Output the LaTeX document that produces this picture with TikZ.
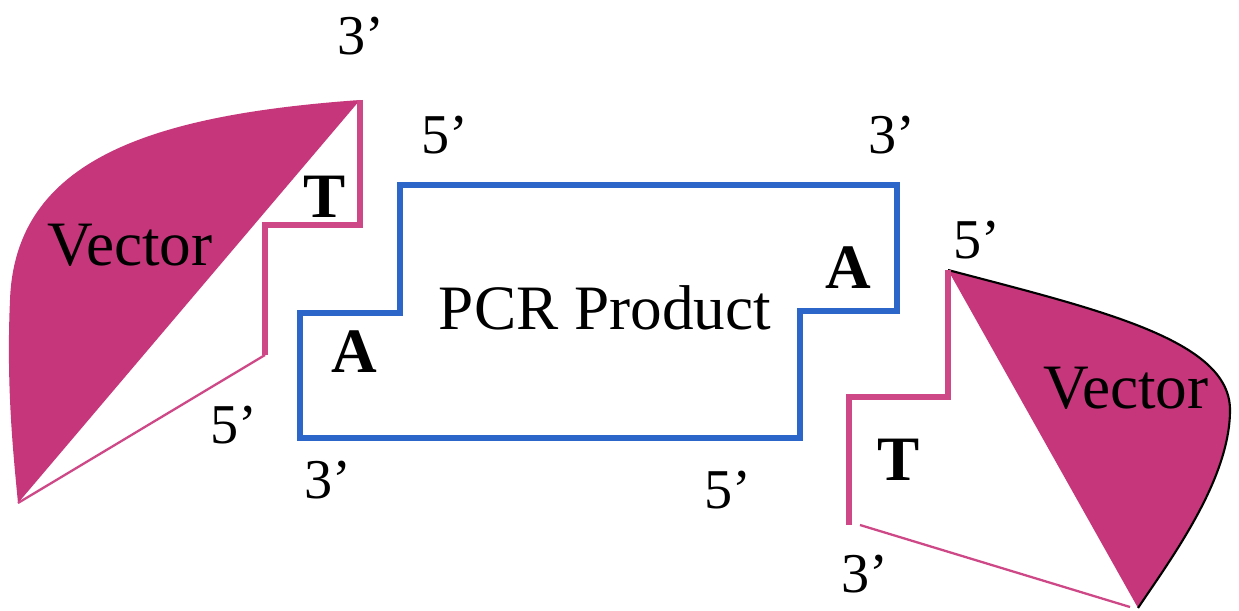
\documentclass[tikz,border=0pt]{standalone}
\usepackage{fontspec}
\setmainfont{Liberation Serif}
\definecolor{vecpink}{RGB}{198,54,122}
\definecolor{strandpink}{RGB}{206,72,136}
\definecolor{pcrblue}{RGB}{44,102,200}

\begin{document}
\begin{tikzpicture}
[x=0.02cm, y=-0.02cm,
vectorfill/.style={fill=vecpink},
strand/.style={draw=strandpink, line width=3.3pt, line join=miter},
thinstrand/.style={draw=strandpink, line width=1.3pt},
product/.style={draw=pcrblue, line width=3.5pt, line join=miter},
primetext/.style={font=\fontsize{32}{36}\selectfont, inner sep=0pt},
wordtext/.style={font=\fontsize{36}{40}\selectfont, inner sep=0pt},
basetext/.style={font=\bfseries\fontsize{36}{40}\selectfont, inner sep=0pt},
]
\useasboundingbox (0,0) rectangle (1239,611);

% left vector
\coordinate (vLtop) at (360,100);
\coordinate (vLbot) at (18,503);
\fill[vectorfill] (vLtop) .. controls (150,115) and (15,160) .. (10,300)
  .. controls (6,390) and (14,460) .. (vLbot) -- cycle;
\draw[strand] (vLtop) |- (265,225) -- (265,355);
\draw[thinstrand] (265,355) -- (vLbot);

% right vector
\coordinate (vRtop) at (948,270);
\coordinate (vRbot) at (1138,608);
\fill[vectorfill] (vRtop) .. controls (1100,310) and (1230,340) .. (1230,410)
  .. controls (1230,480) and (1170,560) .. (vRbot) -- cycle;
\draw[black, line width=1.2pt] (vRtop) .. controls (1100,310) and (1230,340) .. (1230,410)
  .. controls (1230,480) and (1170,560) .. (vRbot);
\draw[strand] (vRtop) |- (849,397) -- (849,525);
\draw[thinstrand] (860,525) -- (1130,607);

% PCR product
\draw[product] (400,185) -- (897,185) -- (897,311) -- (800,311) -- (800,438)
  -- (300,438) -- (300,313) -- (400,313) -- cycle;

\node[wordtext]  (pcr)   at (605,308) {PCR Product};
\node[wordtext]  (vecL)  at (130,245) {Vector};
\node[wordtext]  (vecR)  at (1126,388) {Vector};
\node[basetext]  (tL)    at (325,197) {T};
\node[basetext]  (tR)    at (899,460) {T};
\node[basetext]  (aL)    at (354,352) {A};
\node[basetext]  (aR)    at (848,268) {A};

\node[primetext] (pTopL)  at (361,36)  {3’};
\node[primetext] (pPcrL)  at (445,135) {5’};
\node[primetext] (pPcrR)  at (892,135) {3’};
\node[primetext] (pVecR)  at (977,240) {5’};
\node[primetext] (pVecL)  at (234,425) {5’};
\node[primetext] (pBotL)  at (328,480) {3’};
\node[primetext] (pBotR)  at (728,490) {5’};
\node[primetext] (pBotV)  at (865,574) {3’};
\end{tikzpicture}
\end{document}
